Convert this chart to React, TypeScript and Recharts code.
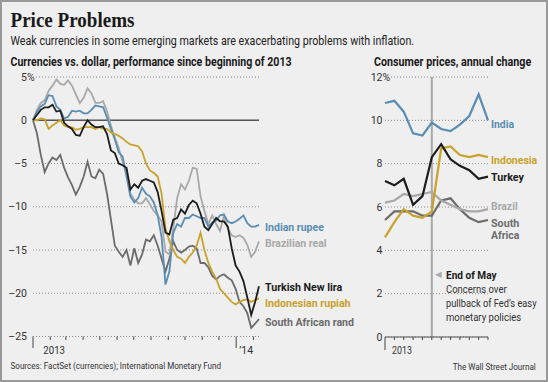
import React, { useLayoutEffect, useRef, useState } from 'react';
import { LineChart, Line, XAxis, YAxis, CartesianGrid, ReferenceLine, LabelList } from 'recharts';

// Currencies vs. dollar, % change since Jan 1 2013, weekly readings (Jan 2013 - early Feb 2014)
const rupee = [0, 1.0, 1.6, 1.9, 2.9, 2.8, 1.6, 1.2, 0.2, 0.4, 1.1, 1.0, 1.1, 0.8, 0.8, 1.2, 1.7, 1.6, 1.5, 0.3, -1.0, -2.2, -3.7, -4.2, -6.5, -8.8, -9.5, -9.0, -7.8, -8.5, -8.8, -9.5, -11.0, -13.5, -19.0, -17.5, -13.0, -12.0, -12.3, -11.3, -11.3, -10.9, -11.1, -11.3, -11.3, -12.3, -11.8, -11.6, -11.0, -10.9, -11.7, -11.9, -11.7, -11.4, -11.0, -11.9, -12.3, -12.3, -12.1];
const real = [0, 1.2, 2.0, 2.3, 3.4, 4.0, 4.7, 4.2, 4.1, 4.6, 4.0, 3.0, 2.0, 2.6, 3.7, 3.1, 2.0, 2.0, 2.2, 1.0, -0.6, -2.0, -3.2, -4.8, -6.2, -8.5, -9.2, -9.6, -9.6, -9.0, -9.7, -10.5, -11.0, -11.7, -15.2, -15.5, -12.5, -9.0, -7.4, -8.0, -7.0, -5.5, -5.6, -8.8, -10.5, -12.0, -11.0, -12.0, -12.8, -11.0, -12.5, -13.3, -13.5, -13.3, -13.6, -14.4, -15.8, -15.2, -14.0];
const lira = [0, 0.6, 1.2, 1.5, 1.5, 1.8, 1.0, 1.1, -0.3, -0.7, -1.0, -1.7, -1.8, -0.8, 0, -0.5, -0.8, -0.8, -0.7, -1.6, -3.5, -3.8, -5.0, -5.2, -5.5, -8.0, -7.4, -7.8, -7.0, -6.8, -7.0, -7.2, -8.3, -10.5, -13.0, -13.2, -11.5, -11.3, -10.3, -10.8, -9.8, -9.3, -9.6, -10.8, -12.3, -12.7, -12.0, -11.3, -11.7, -11.7, -12.3, -14.8, -16.8, -17.5, -18.6, -20.5, -22.5, -21.0, -19.2];
const rupiah = [0, 0, 0.2, 0.1, -1.0, -0.6, -0.3, 0, -0.6, -0.8, -0.8, -1.1, -1.0, -0.8, -0.8, -0.8, -1.0, -0.8, -1.0, -1.0, -1.4, -1.6, -1.8, -2.1, -2.5, -2.8, -2.9, -3.0, -3.6, -5.0, -5.8, -6.1, -6.5, -8.5, -12.5, -14.0, -15.0, -15.8, -16.0, -16.5, -15.8, -15.3, -14.5, -13.0, -15.0, -16.5, -17.5, -18.3, -19.5, -20.0, -20.5, -21.0, -21.3, -21.0, -20.8, -20.7, -21.0, -20.8, -20.6];
const rand = [0, -1.5, -4.0, -6.0, -5.0, -4.3, -4.6, -4.0, -5.5, -6.6, -7.5, -8.6, -7.7, -6.5, -4.8, -6.5, -6.7, -5.7, -6.2, -8.5, -11.5, -14.5, -15.2, -15.8, -15.0, -16.8, -14.8, -16.5, -15.5, -13.8, -14.0, -13.3, -14.5, -16.0, -17.5, -16.0, -14.0, -15.0, -15.3, -15.0, -14.6, -14.5, -14.8, -16.5, -16.5, -17.0, -18.0, -18.4, -18.0, -17.8, -18.2, -18.5, -19.5, -21.0, -21.5, -22.3, -24.0, -23.5, -23.0];
const currencyTicks = [-25, -20, -15, -10, -5, 0, 5];
// days since Jan 1 2013 for each month start, Jan 2013 .. Feb 2014
const monthStarts = [0, 31, 59, 90, 120, 151, 181, 212, 243, 273, 304, 334, 365, 396];

// Consumer prices, annual change, 2013
const months = ['Jan', 'Feb', 'Mar', 'Apr', 'May', 'Jun', 'Jul', 'Aug', 'Sep', 'Oct', 'Nov', 'Dec'];
const india = [10.8, 10.9, 10.4, 9.4, 9.3, 9.9, 9.6, 9.5, 9.8, 10.2, 11.2, 10.0];
const indonesia = [4.6, 5.3, 5.9, 5.6, 5.5, 5.8, 8.7, 8.8, 8.4, 8.3, 8.4, 8.3];
const turkey = [7.2, 7.0, 7.3, 6.1, 6.5, 8.3, 8.9, 8.2, 7.9, 7.7, 7.3, 7.4];
const brazil = [6.2, 6.3, 6.6, 6.5, 6.6, 6.7, 6.3, 6.1, 5.9, 5.8, 5.8, 5.9];
const southAfrica = [5.4, 5.8, 5.8, 5.8, 5.6, 5.6, 6.3, 6.4, 5.9, 5.5, 5.3, 5.4];
const cpiTicks = [0, 2, 4, 6, 8, 10, 12];
const fedMonth = 5;

const currencyRows = rupee.map((_, i) => ({
  day: i * 7,
  rupee: rupee[i],
  real: real[i],
  lira: lira[i],
  rupiah: rupiah[i],
  rand: rand[i],
}));

const cpiRows = months.map((m, i) => ({
  m: i,
  name: m,
  india: india[i],
  indonesia: indonesia[i],
  turkey: turkey[i],
  brazil: brazil[i],
  southAfrica: southAfrica[i],
}));

const SANS = "'Liberation Sans Narrow', 'Roboto', 'Liberation Sans', sans-serif";
const SERIF = "'Liberation Serif', 'DejaVu Serif', serif";

const BLUE = '#5a8db3';
const LIGHT = '#a8a8a8';
const BLACK = '#1c1c1c';
const GOLD = '#c9a22b';
const DARK = '#6b6b6b';

// text squeezed horizontally to a given width (the WSJ face is narrow)
const FitText = ({ x, y, width, children, ...rest }: any) => {
  const ref = useRef<SVGTextElement>(null);
  const [sx, setSx] = useState(1);
  useLayoutEffect(() => {
    const n = ref.current ? ref.current.getComputedTextLength() : 0;
    if (n > 0) setSx(Math.min(1.15, width / n));
  }, [width, children]);
  return (
    <text ref={ref} transform={`translate(${x},${y}) scale(${sx},1)`} fontFamily={SANS} {...rest}>
      {children}
    </text>
  );
};

const fmt = (v: number) => (v < 0 ? '–' + Math.abs(v) : String(v));

const makeYTick = (right: number, top: number) => ({ y, payload }: any) => (
  <g>
    <text x={right} y={y + 3.5} textAnchor="end" fontSize={10.5} fill="#333" fontFamily={SANS}>
      {fmt(payload.value)}
    </text>
    {payload.value === top && (
      <text x={right} y={y + 3.5} fontSize={10.5} fill="#333" fontFamily={SANS}>%</text>
    )}
  </g>
);

const LeftXTick = ({ x, y, payload }: any) => {
  const v = payload.value;
  const year = v === 0 || v === 365;
  return (
    <g>
      <line x1={x} x2={x} y1={y} y2={y + (year ? 11.5 : 3.5)} stroke="#444" strokeWidth={1} />
      {v === 0 && (
        <FitText x={x + 10.3} y={y + 17.8} width={21.7} fontSize={10.5} fill="#333">2013</FitText>
      )}
      {v === 365 && (
        <text x={x + 3} y={y + 17.8} fontSize={10.5} fill="#333" fontFamily={SANS}>’14</text>
      )}
    </g>
  );
};

const RightXTick = ({ x, y, payload }: any) => {
  const first = payload.value === 0;
  return (
    <g>
      <line x1={x} x2={x} y1={y} y2={y + (first ? 13 : 3)} stroke="#444" strokeWidth={1} />
      {first && (
        <FitText x={x + 7} y={y + 17.3} width={20} fontSize={10.5} fill="#333">2013</FitText>
      )}
    </g>
  );
};

// label drawn only beside the last point of a series
const endLabel = (lines: string[], color: string, last: number, dx: number, dy: number, widths: number[], size: number) =>
  (p: any) => {
    if (p.index !== last) return null;
    return (
      <g>
        {lines.map((t, k) => (
          <FitText
            key={t}
            x={p.x + dx}
            y={p.y + dy + k * 12.3}
            width={widths[k]}
            fill={color}
            fontSize={size}
            fontWeight="bold"
          >
            {t}
          </FitText>
        ))}
      </g>
    );
  };

const lastW = currencyRows.length - 1;
const lastM = cpiRows.length - 1;

const App = () => (
  <div style={{ position: 'absolute', left: 0, top: 0, width: 548, height: 382, background: '#efefef', overflow: 'hidden' }}>
    <div style={{ position: 'absolute', left: 0, top: 0 }}>
      <LineChart width={370} height={382} data={currencyRows} margin={{ top: 77, right: 111, bottom: 44.5, left: 0 }}>
        <CartesianGrid vertical={false} stroke="#8a8a8a" strokeDasharray="1 2" />
        <XAxis
          dataKey="day"
          type="number"
          domain={[0, 406]}
          ticks={monthStarts}
          interval={0}
          height={1}
          axisLine={false}
          tickLine={false}
          tickSize={0}
          tickMargin={0}
          tick={<LeftXTick />}
        />
        <YAxis
          type="number"
          domain={[-25, 5]}
          ticks={currencyTicks}
          interval={0}
          width={33}
          axisLine={false}
          tickLine={false}
          tickSize={0}
          tickMargin={0}
          tick={makeYTick(27, 5)}
        />
        <ReferenceLine y={0} stroke="#555" strokeWidth={1.5} />
        <Line dataKey="rand" stroke={DARK} strokeWidth={1.8} dot={false} isAnimationActive={false}>
          <LabelList content={endLabel(['South African rand'], DARK, lastW, 6, 6.5, [89], 11.5)} />
        </Line>
        <Line dataKey="real" stroke={LIGHT} strokeWidth={1.8} dot={false} isAnimationActive={false}>
          <LabelList content={endLabel(['Brazilian real'], LIGHT, lastW, 6, 5.9, [61.7], 11.5)} />
        </Line>
        <Line dataKey="rupee" stroke={BLUE} strokeWidth={1.8} dot={false} isAnimationActive={false}>
          <LabelList content={endLabel(['Indian rupee'], BLUE, lastW, 6, 5.8, [59], 11.5)} />
        </Line>
        <Line dataKey="rupiah" stroke={GOLD} strokeWidth={1.8} dot={false} isAnimationActive={false}>
          <LabelList content={endLabel(['Indonesian rupiah'], GOLD, lastW, 6, 8.3, [85.7], 11.5)} />
        </Line>
        <Line dataKey="lira" stroke={BLACK} strokeWidth={1.8} dot={false} isAnimationActive={false}>
          <LabelList content={endLabel(['Turkish New lira'], BLACK, lastW, 6, 4.4, [77.3], 11.5)} />
        </Line>
      </LineChart>
    </div>

    <div style={{ position: 'absolute', left: 0, top: 0 }}>
      <LineChart width={548} height={382} data={cpiRows} margin={{ top: 77, right: 60, bottom: 44, left: 340 }}>
        <CartesianGrid vertical={false} stroke="#8a8a8a" strokeDasharray="1 2" />
        <XAxis
          dataKey="m"
          type="number"
          domain={[0, 11]}
          ticks={cpiRows.map((r) => r.m)}
          interval={0}
          height={1}
          axisLine={{ stroke: '#555', strokeWidth: 1 }}
          tickLine={false}
          tickSize={0}
          tickMargin={0}
          tick={<RightXTick />}
        />
        <YAxis
          type="number"
          domain={[0, 12]}
          ticks={cpiTicks}
          interval={0}
          width={45}
          axisLine={false}
          tickLine={false}
          tickSize={0}
          tickMargin={0}
          tick={makeYTick(382.5, 12)}
        />
        <ReferenceLine x={fedMonth} stroke="#a9a9a9" strokeWidth={2} />
        <Line dataKey="southAfrica" stroke={DARK} strokeWidth={2.2} dot={false} isAnimationActive={false}>
          <LabelList content={endLabel(['South', 'Africa'], DARK, lastM, 3, 7, [28.3, 28.3], 11)} />
        </Line>
        <Line dataKey="brazil" stroke={LIGHT} strokeWidth={2.2} dot={false} isAnimationActive={false}>
          <LabelList content={endLabel(['Brazil'], LIGHT, lastM, 3, 1.2, [26.7], 11)} />
        </Line>
        <Line dataKey="india" stroke={BLUE} strokeWidth={2.2} dot={false} isAnimationActive={false}>
          <LabelList content={endLabel(['India'], BLUE, lastM, 3, 7.5, [23], 11.5)} />
        </Line>
        <Line dataKey="indonesia" stroke={GOLD} strokeWidth={2.2} dot={false} isAnimationActive={false}>
          <LabelList content={endLabel(['Indonesia'], GOLD, lastM, 3, 6.6, [46.3], 11.5)} />
        </Line>
        <Line dataKey="turkey" stroke={BLACK} strokeWidth={2.2} dot={false} isAnimationActive={false}>
          <LabelList content={endLabel(['Turkey'], BLACK, lastM, 3, 4, [33], 11.5)} />
        </Line>
      </LineChart>
    </div>

    <svg width={548} height={382} style={{ position: 'absolute', left: 0, top: 0, pointerEvents: 'none' }}>
      <FitText x={10.5} y={27.3} width={124} fontFamily={SERIF} fontWeight="bold" fontSize={21} fill="#1a1a1a">
        Price Problems
      </FitText>
      <FitText x={10.5} y={44.5} width={404} fontSize={12.5} fill="#222">
        Weak currencies in some emerging markets are exacerbating problems with inflation.
      </FitText>
      <FitText x={10.5} y={66.4} width={281.5} fontWeight="bold" fontSize={12.5} fill="#1a1a1a">
        Currencies vs. dollar, performance since beginning of 2013
      </FitText>
      <FitText x={374} y={66.4} width={157.5} fontWeight="bold" fontSize={12.5} fill="#1a1a1a">
        Consumer prices, annual change
      </FitText>

      <polygon points="441.7,271.7 441.7,278 435,274.8" fill="#aaa" />
      <FitText x={446} y={279} width={50.7} fontWeight="bold" fontSize={11.5} fill="#1a1a1a">
        End of May
      </FitText>
      <FitText x={446} y={293.3} width={60.7} fontSize={11.5} fill="#333">
        Concerns over
      </FitText>
      <FitText x={446} y={307.3} width={90.7} fontSize={11.5} fill="#333">
        pullback of Fed’s easy
      </FitText>
      <FitText x={446} y={321} width={75.3} fontSize={11.5} fill="#333">
        monetary policies
      </FitText>

      <FitText x={10.5} y={369} width={211} fontSize={9.5} fill="#333">
        Sources: FactSet (currencies); International Monetary Fund
      </FitText>
      <FitText x={452.7} y={369.7} width={83.3} fontSize={9.5} fill="#333">
        The Wall Street Journal
      </FitText>
      <rect x={1} y={1} width={546} height={380} fill="none" stroke="#999" strokeWidth={2} />
    </svg>
  </div>
);

export default App;
